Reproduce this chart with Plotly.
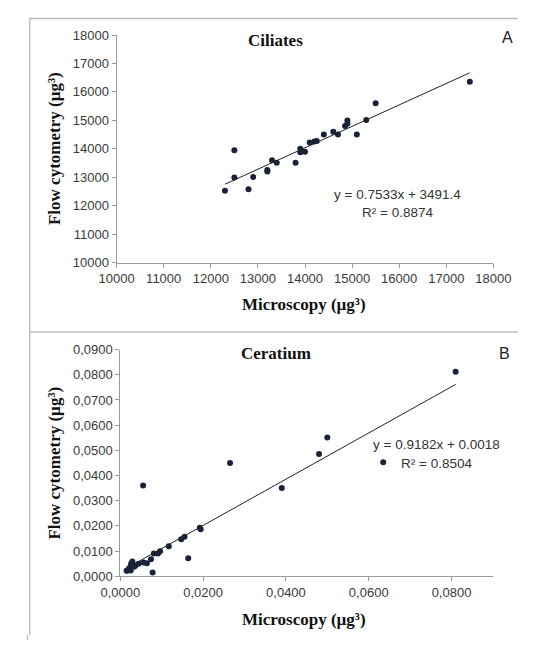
import plotly.graph_objects as go

# ---- Data: Ciliates (panel A) ----
cil_micro = [12300, 12500, 12500, 12800, 12900, 13200, 13200, 13300, 13400, 13800,
             13900, 13900, 14000, 14100, 14200, 14250, 14400, 14600, 14700, 14850,
             14900, 14900, 15100, 15300, 15500, 17500]
cil_flow = [12530, 13950, 12990, 12580, 13010, 13200, 13260, 13600, 13510, 13510,
            14000, 13880, 13900, 14220, 14260, 14280, 14500, 14600, 14500, 14800,
            15000, 14880, 14500, 15010, 15600, 16360]
cil_slope, cil_intercept = 0.7533, 3491.4
cil_eq = ["y = 0.7533x + 3491.4", "R² = 0.8874"]

# ---- Data: Ceratium (panel B) ----
cer_micro = [0.0810, 0.0500, 0.0480, 0.0265, 0.0390, 0.0055, 0.0192, 0.0194, 0.0155,
             0.0147, 0.0117, 0.0164, 0.0096, 0.0091, 0.0081, 0.0074, 0.0078, 0.0064,
             0.0056, 0.0044, 0.0036, 0.0029, 0.0026, 0.0025, 0.0021, 0.0017, 0.0015,
             0.0025, 0.0033, 0.0635]
cer_flow = [0.0812, 0.0551, 0.0485, 0.0450, 0.0350, 0.0360, 0.0192, 0.0186, 0.0157,
            0.0147, 0.0119, 0.0071, 0.0099, 0.0090, 0.0090, 0.0067, 0.0015, 0.0051,
            0.0054, 0.0049, 0.0042, 0.0058, 0.0049, 0.0038, 0.0032, 0.0023, 0.0022,
            0.0023, 0.0038, 0.0453]
cer_slope, cer_intercept = 0.9182, 0.0018
cer_eq = ["y = 0.9182x + 0.0018", "R² = 0.8504"]

# ---- Tick labels ----
cil_ticks = [10000, 11000, 12000, 13000, 14000, 15000, 16000, 17000, 18000]
cil_ticktext = ["10000", "11000", "12000", "13000", "14000", "15000", "16000", "17000", "18000"]
cer_yticks = [0.0, 0.01, 0.02, 0.03, 0.04, 0.05, 0.06, 0.07, 0.08, 0.09]
cer_yticktext = ["0,0000", "0,0100", "0,0200", "0,0300", "0,0400", "0,0500", "0,0600",
                 "0,0700", "0,0800", "0,0900"]
cer_xticks = [0.0, 0.02, 0.04, 0.06, 0.08]
cer_xticktext = ["0,0000", "0,0200", "0,0400", "0,0600", "0,0800"]

W, H = 536, 648
MARKER = "#18223a"
TICKFONT = dict(family="Liberation Sans, Arial", size=13, color="#3a3a3a")
AXCOL = "#9a9a9a"

def px(x):
    return x / W

def py(y):
    return 1 - y / H

fig = go.Figure()

# Panel A
fig.add_trace(go.Scatter(x=cil_micro, y=cil_flow, mode="markers",
                         marker=dict(size=6, color=MARKER), xaxis="x", yaxis="y",
                         showlegend=False))
cx = [min(cil_micro), max(cil_micro)]
fig.add_trace(go.Scatter(x=cx, y=[cil_slope * v + cil_intercept for v in cx], mode="lines",
                         line=dict(color="#222", width=1), xaxis="x", yaxis="y",
                         showlegend=False))

# Panel B
fig.add_trace(go.Scatter(x=cer_micro, y=cer_flow, mode="markers",
                         marker=dict(size=6, color=MARKER), xaxis="x2", yaxis="y2",
                         showlegend=False))
bx = [min(cer_micro), max(cer_micro)]
fig.add_trace(go.Scatter(x=bx, y=[cer_slope * v + cer_intercept for v in bx], mode="lines",
                         line=dict(color="#222", width=1), xaxis="x2", yaxis="y2",
                         showlegend=False))

axis_common = dict(showline=True, linecolor=AXCOL, linewidth=1, ticks="outside",
                   ticklen=4, tickcolor=AXCOL, showgrid=False, zeroline=False,
                   tickfont=TICKFONT, fixedrange=True)

fig.update_layout(
    width=W, height=H,
    margin=dict(l=0, r=0, t=0, b=0),
    paper_bgcolor="white", plot_bgcolor="white",
    xaxis=dict(domain=[px(104), px(509.5)], range=[10000, 18000], anchor="y",
               tickvals=cil_ticks, ticktext=cil_ticktext, **axis_common),
    yaxis=dict(domain=[py(261.7), py(28.7)], range=[10000, 18000], anchor="x",
               tickvals=cil_ticks, ticktext=cil_ticktext, **axis_common),
    xaxis2=dict(domain=[px(108), px(509)], range=[0, 0.09], anchor="y2",
                tickvals=cer_xticks, ticktext=cer_xticktext, **axis_common),
    yaxis2=dict(domain=[py(582.7), py(350.7)], range=[0, 0.09], anchor="x2",
                tickvals=cer_yticks, ticktext=cer_yticktext, **axis_common),
)

TITLEFONT = dict(family="Liberation Serif, Times New Roman", size=17, color="#111")
PANELFONT = dict(family="Liberation Serif, Times New Roman", size=17, color="#111")
EQFONT = dict(family="Liberation Sans, Arial", size=13.5, color="#333")
LETTERFONT = dict(family="Liberation Sans, Arial", size=16, color="#222")

def ann(x, y, text, font, **kw):
    fig.add_annotation(x=px(x), y=py(y), xref="paper", yref="paper", text=text,
                       showarrow=False, font=font, xanchor="center", yanchor="middle", **kw)

# Panel A texts
ann(275, 34, "<b>Ciliates</b>", PANELFONT)
ann(525, 31, "A", LETTERFONT)
ann(306, 305, "<b>Microscopy (µg³)</b>", TITLEFONT)
ann(37, 145, "<b>Flow cytometry (µg³)</b>", TITLEFONT, textangle=-90)
ann(406, 192, cil_eq[0], EQFONT)
ann(406, 210, cil_eq[1], EQFONT)

# Panel B texts
ann(275, 355, "<b>Ceratium</b>", PANELFONT)
ann(522, 355, "B", LETTERFONT)
ann(306, 627, "<b>Microscopy (µg³)</b>", TITLEFONT)
ann(37, 467, "<b>Flow cytometry (µg³)</b>", TITLEFONT, textangle=-90)
ann(448, 448, cer_eq[0], EQFONT)
ann(448, 467, cer_eq[1], EQFONT)

# Frame lines
FRAME = "#bdbdbd"
for x0, y0, x1, y1 in [(10.5, 11.7, 10.5, 643), (10, 11.7, 536, 11.7), (10, 332.7, 536, 332.7),
                       (8, 643, 8, 648)]:
    fig.add_shape(type="line", xref="paper", yref="paper", x0=px(x0), y0=py(y0),
                  x1=px(x1), y1=py(y1), line=dict(color=FRAME, width=1.5))

fig.write_html("out.html", config={"displayModeBar": False},
               post_script="document.body.style.margin='0';document.body.style.overflow='hidden';")
